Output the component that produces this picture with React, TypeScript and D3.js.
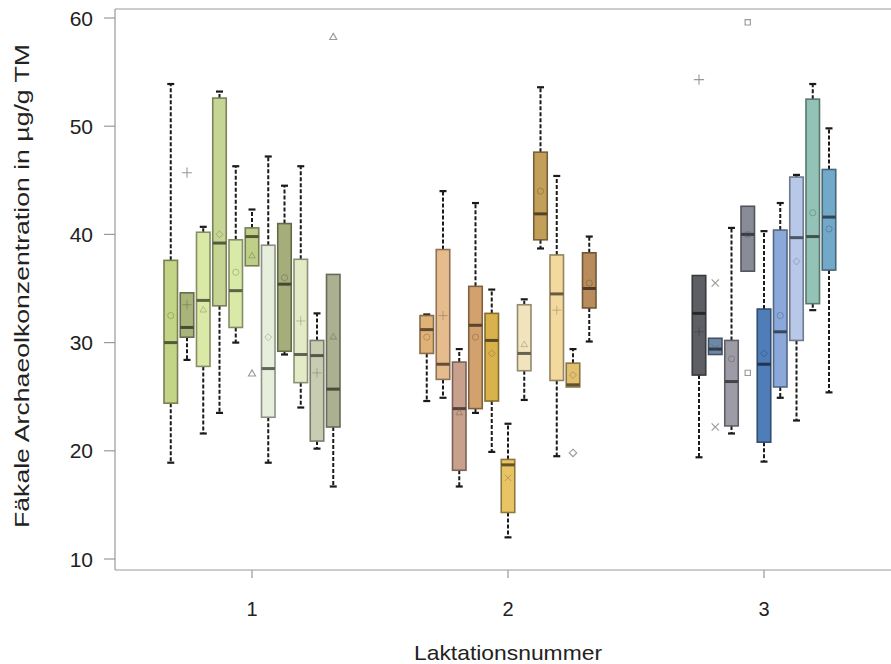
import React from 'react';
import * as d3 from 'd3';

const lactations = ['1', '2', '3'];
const yTicks = [10, 20, 30, 40, 50, 60];

// box statistics per lactation group, µg/g TM
const whiskerLow = [
  [18.9, 28.4, 21.6, 23.5, 30.0, 37.1, 18.9, 28.9, 24.0, 20.2, 16.7],
  [24.6, 24.9, 16.7, 23.5, 19.9, 12.0, 24.7, 38.7, 19.5, 25.9, 30.1],
  [19.4, 28.9, 21.6, 36.6, 19.0, 24.9, 22.8, 33.0, 25.4],
];
const quart1 = [
  [24.4, 30.5, 27.8, 33.4, 31.4, 37.1, 23.1, 29.2, 26.3, 20.9, 22.2],
  [29.0, 26.6, 18.2, 23.9, 24.6, 14.3, 27.4, 39.5, 26.5, 25.9, 33.2],
  [27.0, 28.9, 22.3, 36.6, 20.8, 25.9, 30.2, 33.6, 36.7],
];
const medians = [
  [30.0, 31.4, 33.9, 39.2, 34.8, 39.8, 27.6, 35.4, 28.9, 28.8, 25.7],
  [31.2, 28.0, 23.9, 31.6, 30.2, 18.7, 29.0, 41.9, 34.5, 26.1, 35.0],
  [32.7, 29.4, 26.4, 40.0, 28.0, 31.0, 39.7, 39.8, 41.6],
];
const quart3 = [
  [37.6, 34.6, 40.2, 52.6, 39.5, 40.6, 39.0, 41.0, 37.7, 30.2, 36.3],
  [32.5, 38.6, 28.2, 35.2, 32.7, 19.2, 33.5, 47.6, 38.1, 28.1, 38.3],
  [36.2, 30.4, 30.2, 42.6, 33.1, 40.4, 45.3, 52.5, 46.0],
];
const whiskerHigh = [
  [53.9, 34.6, 40.7, 53.2, 46.3, 42.3, 47.2, 44.5, 46.3, 32.7, 36.3],
  [32.6, 44.0, 29.4, 42.9, 34.9, 22.5, 34.0, 53.6, 45.4, 29.4, 39.8],
  [36.2, 30.4, 40.6, 42.6, 40.3, 42.9, 45.5, 53.9, 49.8],
];
const means = [
  [32.5, 33.5, 33.0, 40.0, 36.5, 38.0, 30.5, 36.0, 32.0, 27.2, 30.5],
  [30.5, 32.5, 23.5, 30.5, 29.0, 17.5, 29.8, 44.0, 33.0, 27.0, 35.5],
  [31.0, 29.5, 28.5, 40.0, 29.0, 32.5, 37.5, 42.0, 40.5],
];
const outliers = [
  { group: 0, box: 1, value: 45.7 },
  { group: 0, box: 5, value: 27.1 },
  { group: 0, box: 10, value: 58.2 },
  { group: 1, box: 9, value: 19.8 },
  { group: 2, box: 0, value: 54.3 },
  { group: 2, box: 1, value: 35.5 },
  { group: 2, box: 1, value: 22.2 },
  { group: 2, box: 3, value: 59.6 },
  { group: 2, box: 3, value: 27.2 },
];
const fills = [
  ['#c3d487', '#a9b47a', '#dbe9a6', '#c6d594', '#d8e9a8', '#bfcf88', '#e6eedc', '#a5ad7a', '#e3ebc6', '#c8ccb0', '#aab090'],
  ['#e0b278', '#e6bc8e', '#c9a08c', '#d3a16e', '#d9b24e', '#e8c464', '#f1e4bc', '#c3a05a', '#f3d99e', '#e2c070', '#b98c5c'],
  ['#5d5f65', '#6e88a6', '#9d9ca6', '#888c98', '#4f7db8', '#8aa8da', '#b8c8e8', '#92c3b6', '#72a9c8'],
];
const markers = [
  ['circle', 'plus', 'triangle', 'diamond', 'circle', 'triangle', 'diamond', 'circle', 'plus', 'plus', 'triangle'],
  ['circle', 'plus', 'triangle', 'circle', 'diamond', 'times', 'triangle', 'circle', 'plus', 'diamond', 'circle'],
  ['plus', 'times', 'circle', 'square', 'diamond', 'circle', 'diamond', 'circle', 'circle'],
];

const symbolTypes: Record<string, d3.SymbolType> = {
  circle: d3.symbolCircle,
  plus: d3.symbolPlus,
  times: d3.symbolTimes,
  triangle: d3.symbolTriangle2,
  square: d3.symbolSquare2,
  diamond: d3.symbolDiamond2,
};

const W = 891, H = 664;
const left = 115, top = 9, bottom = 570;
const step = 16.25, boxW = 13.5;
const font = '"Liberation Sans", Arial, sans-serif';

export default function App() {
  const y = d3.scaleLinear().domain([10, 60]).range([559, 18]);
  const x = d3.scalePoint().domain(lactations).range([252, 764]);
  const boxX = (g: number, i: number) =>
    (x(lactations[g]) as number) + (i - (medians[g].length - 1) / 2) * step;
  const sym = (name: string, size: number) => d3.symbol(symbolTypes[name], size)() as string;

  return (
    <svg width={W} height={H} style={{ position: 'absolute', left: 0, top: 0, background: '#fff' }}>
      {/* frame */}
      <g stroke="#999" strokeWidth={1.2}>
        <line x1={left} x2={left} y1={top} y2={bottom} />
        <line x1={left} x2={W} y1={bottom} y2={bottom} />
        <line x1={left} x2={W} y1={top} y2={top} />
        {yTicks.map(t => <line key={t} x1={left - 11} x2={left} y1={y(t)} y2={y(t)} />)}
        {lactations.map(l => <line key={l} x1={x(l)} x2={x(l)} y1={bottom} y2={bottom + 8} />)}
      </g>
      <g fontFamily={font} fontSize={21} fill="#222">
        {yTicks.map(t => (
          <text key={t} x={93} y={y(t)} textAnchor="end" dominantBaseline="central">{t}</text>
        ))}
        {lactations.map(l => (
          <text key={l} x={x(l)} y={609} textAnchor="middle" dominantBaseline="central" fontSize={20}>{l}</text>
        ))}
      </g>
      <text x={508} y={652} textAnchor="middle" dominantBaseline="central" fontFamily={font} fontSize={21}
        fill="#222" textLength={188} lengthAdjust="spacingAndGlyphs">
        Laktationsnummer
      </text>
      <text transform="translate(22,286) rotate(-90)" textAnchor="middle" dominantBaseline="central"
        fontFamily={font} fontSize={20} fill="#222" textLength={484} lengthAdjust="spacingAndGlyphs">
        Fäkale Archaeolkonzentration in µg/g TM
      </text>

      {medians.map((grp, g) => grp.map((med, i) => {
        const cx = boxX(g, i);
        const fill = fills[g][i];
        const edge = d3.color(fill)!.darker(1.4).formatHex();
        const dark = d3.color(fill)!.darker(2.4).formatHex();
        const lo = whiskerLow[g][i], hi = whiskerHigh[g][i];
        const b1 = quart1[g][i], b3 = quart3[g][i];
        return (
          <g key={`${g}-${i}`}>
            {hi > b3 && (
              <g stroke="#1a1a1a">
                <line x1={cx} x2={cx} y1={y(b3)} y2={y(hi)} strokeWidth={2} strokeDasharray="4,2" />
                <line x1={cx - 3.5} x2={cx + 3.5} y1={y(hi)} y2={y(hi)} strokeWidth={2.2} />
              </g>
            )}
            {lo < b1 && (
              <g stroke="#1a1a1a">
                <line x1={cx} x2={cx} y1={y(b1)} y2={y(lo)} strokeWidth={2} strokeDasharray="4,2" />
                <line x1={cx - 3.5} x2={cx + 3.5} y1={y(lo)} y2={y(lo)} strokeWidth={2.2} />
              </g>
            )}
            <rect x={cx - boxW / 2} y={y(b3)} width={boxW} height={y(b1) - y(b3)}
              fill={fill} stroke={edge} strokeWidth={1.6} />
            <line x1={cx - boxW / 2} x2={cx + boxW / 2} y1={y(med)} y2={y(med)} stroke={dark} strokeWidth={3} />
            <path d={sym(markers[g][i], 30)} transform={`translate(${cx},${y(means[g][i])})`}
              fill="none" stroke={edge} strokeOpacity={0.5} strokeWidth={1} />
          </g>
        );
      }))}

      {outliers.map((o, k) => (
        <path key={k} d={sym(markers[o.group][o.box], 36)}
          transform={`translate(${boxX(o.group, o.box)},${y(o.value)})`}
          fill="none" stroke="#999" strokeWidth={1.1} />
      ))}
    </svg>
  );
}
